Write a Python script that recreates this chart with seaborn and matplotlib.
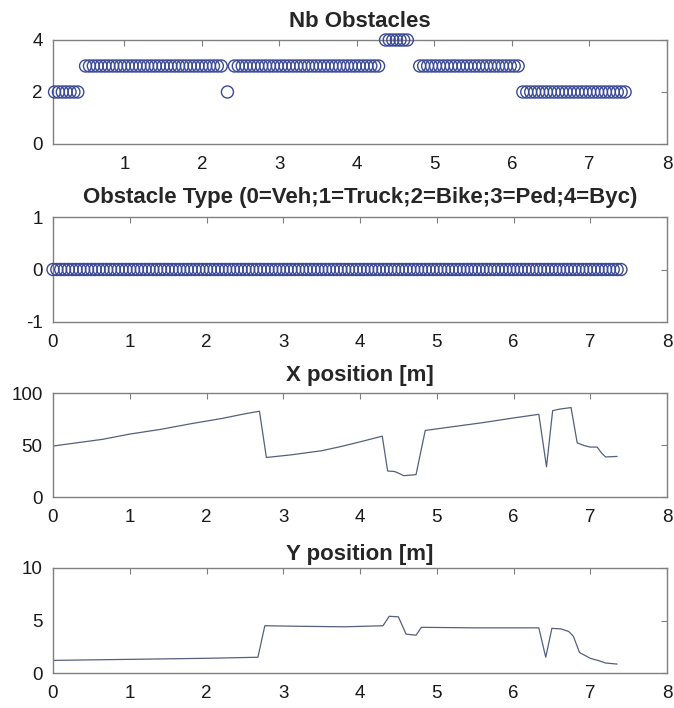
"""Obstacle tracking summary: count, type and position over time."""

import matplotlib

matplotlib.use("Agg")

import matplotlib.pyplot as plt
import numpy as np
import pandas as pd
import seaborn as sns

# sample period of the recorded obstacle list [s]
SAMPLE_STEP = 0.05

# Nb Obstacles, as runs of constant value (start time, end time, value)
NB_RUN_START = [0.10, 0.50, 2.33, 2.42, 4.37, 4.81, 6.14]
NB_RUN_END = [0.40, 2.25, 2.33, 4.28, 4.65, 6.08, 7.46]
NB_RUN_VALUE = [2, 3, 2, 3, 4, 3, 2]

# Obstacle type, one run of vehicles
TYPE_RUN_START = [0.00]
TYPE_RUN_END = [7.40]
TYPE_RUN_VALUE = [0]

# X position [m]
XPOS_TIME = [0.0, 0.3, 0.65, 1.0, 1.4, 1.8, 2.2, 2.5, 2.69, 2.78, 3.1, 3.5,
             3.75, 4.0, 4.29, 4.36, 4.45, 4.5, 4.57, 4.73, 4.85, 5.2, 5.6,
             6.0, 6.33, 6.43, 6.51, 6.6, 6.75, 6.83, 6.92, 7.0, 7.09, 7.15,
             7.2, 7.35]
XPOS_VALUE = [49, 52, 55.5, 60.5, 65, 70.5, 75.5, 80, 82.5, 38, 40.5, 44.5,
              48.5, 53, 58.5, 25, 24.5, 23, 20.5, 21.5, 64, 67.5, 71.5,
              76, 79.5, 29, 83, 84.5, 86, 52, 49.5, 48, 48, 42,
              38.5, 39]

# Y position [m]
YPOS_TIME = [0.0, 1.0, 2.0, 2.67, 2.76, 3.2, 3.8, 4.3, 4.38, 4.5, 4.6, 4.73,
             4.8, 5.5, 6.33, 6.42, 6.5, 6.62, 6.72, 6.78, 6.86, 7.0, 7.1,
             7.2, 7.35]
YPOS_VALUE = [1.2, 1.3, 1.4, 1.5, 4.5, 4.45, 4.4, 4.5, 5.4, 5.35, 3.7, 3.6,
              4.35, 4.3, 4.3, 1.5, 4.25, 4.2, 3.95, 3.5, 1.95, 1.4, 1.2,
              0.95, 0.85]

TITLES = [
    "Nb Obstacles",
    "Obstacle Type (0=Veh;1=Truck;2=Bike;3=Ped;4=Byc)",
    "X position [m]",
    "Y position [m]",
]

MARKER_COLOR = "#3b4a96"
LINE_COLOR = "#55607c"
AXIS_COLOR = "#808080"


def expand_runs(starts, ends, values):
    times, vals = [], []
    for start, end, value in zip(starts, ends, values):
        n = int(round((end - start) / SAMPLE_STEP)) + 1
        times.extend(np.linspace(start, end, n))
        vals.extend([value] * n)
    return pd.DataFrame({"time": times, "value": vals})


def style_axes(ax, xlim, ylim, xticks, yticks, title, title_pad):
    ax.set_xlim(*xlim)
    ax.set_ylim(*ylim)
    ax.set_xticks(xticks)
    ax.set_yticks(yticks)
    ax.set_xlabel("")
    ax.set_ylabel("")
    ax.set_title(title, fontweight="bold", fontsize=16, pad=title_pad)
    ax.tick_params(direction="in", length=4, width=0.8, color=AXIS_COLOR,
                   top=True, right=True, labelsize=13.5, labelcolor="#1a1a1a")
    ax.tick_params(axis="x", pad=8.5)
    ax.tick_params(axis="y", pad=7.5)
    for spine in ax.spines.values():
        spine.set_visible(True)
        spine.set_color(AXIS_COLOR)
        spine.set_linewidth(1.0)
    ax.grid(False)


def main() -> None:
    sns.set_theme(style="white")
    plt.rcParams["font.family"] = ["Liberation Sans", "DejaVu Sans"]
    plt.rcParams["axes.unicode_minus"] = False

    fig = plt.figure(figsize=(6.74, 7.08), dpi=100)
    left, width = 53 / 674, (667 - 53) / 674
    rects = [
        (left, 1 - 144 / 708, width, 104 / 708),
        (left, 1 - 322 / 708, width, 105 / 708),
        (left, 1 - 497 / 708, width, 104 / 708),
        (left, 1 - 673 / 708, width, 105 / 708),
    ]
    axes = [fig.add_axes(r) for r in rects]

    nb_df = expand_runs(NB_RUN_START, NB_RUN_END, NB_RUN_VALUE)
    type_df = expand_runs(TYPE_RUN_START, TYPE_RUN_END, TYPE_RUN_VALUE)
    xpos_df = pd.DataFrame({"time": XPOS_TIME, "value": XPOS_VALUE})
    ypos_df = pd.DataFrame({"time": YPOS_TIME, "value": YPOS_VALUE})

    for ax, df in zip(axes[:2], [nb_df, type_df]):
        sns.scatterplot(data=df, x="time", y="value", ax=ax, marker="o", s=75,
                        color=MARKER_COLOR, facecolor="none",
                        edgecolor=MARKER_COLOR, linewidth=1.0, clip_on=False,
                        zorder=3)

    for ax, df in zip(axes[2:], [xpos_df, ypos_df]):
        sns.lineplot(data=df, x="time", y="value", ax=ax, color=LINE_COLOR,
                     linewidth=0.9, estimator=None, sort=False)

    style_axes(axes[0], (0.08, 8), (0, 4), range(1, 9), [0, 2, 4],
               TITLES[0], 9.5)
    style_axes(axes[1], (0, 8), (-1, 1), range(0, 9), [-1, 0, 1],
               TITLES[1], 10)
    style_axes(axes[2], (0, 8), (0, 100), range(0, 9), [0, 50, 100],
               TITLES[2], 9)
    style_axes(axes[3], (0, 8), (0, 10), range(0, 9), [0, 5, 10],
               TITLES[3], 6)

    fig.savefig("out.png", dpi=100)
    plt.close(fig)


if __name__ == "__main__":
    main()
